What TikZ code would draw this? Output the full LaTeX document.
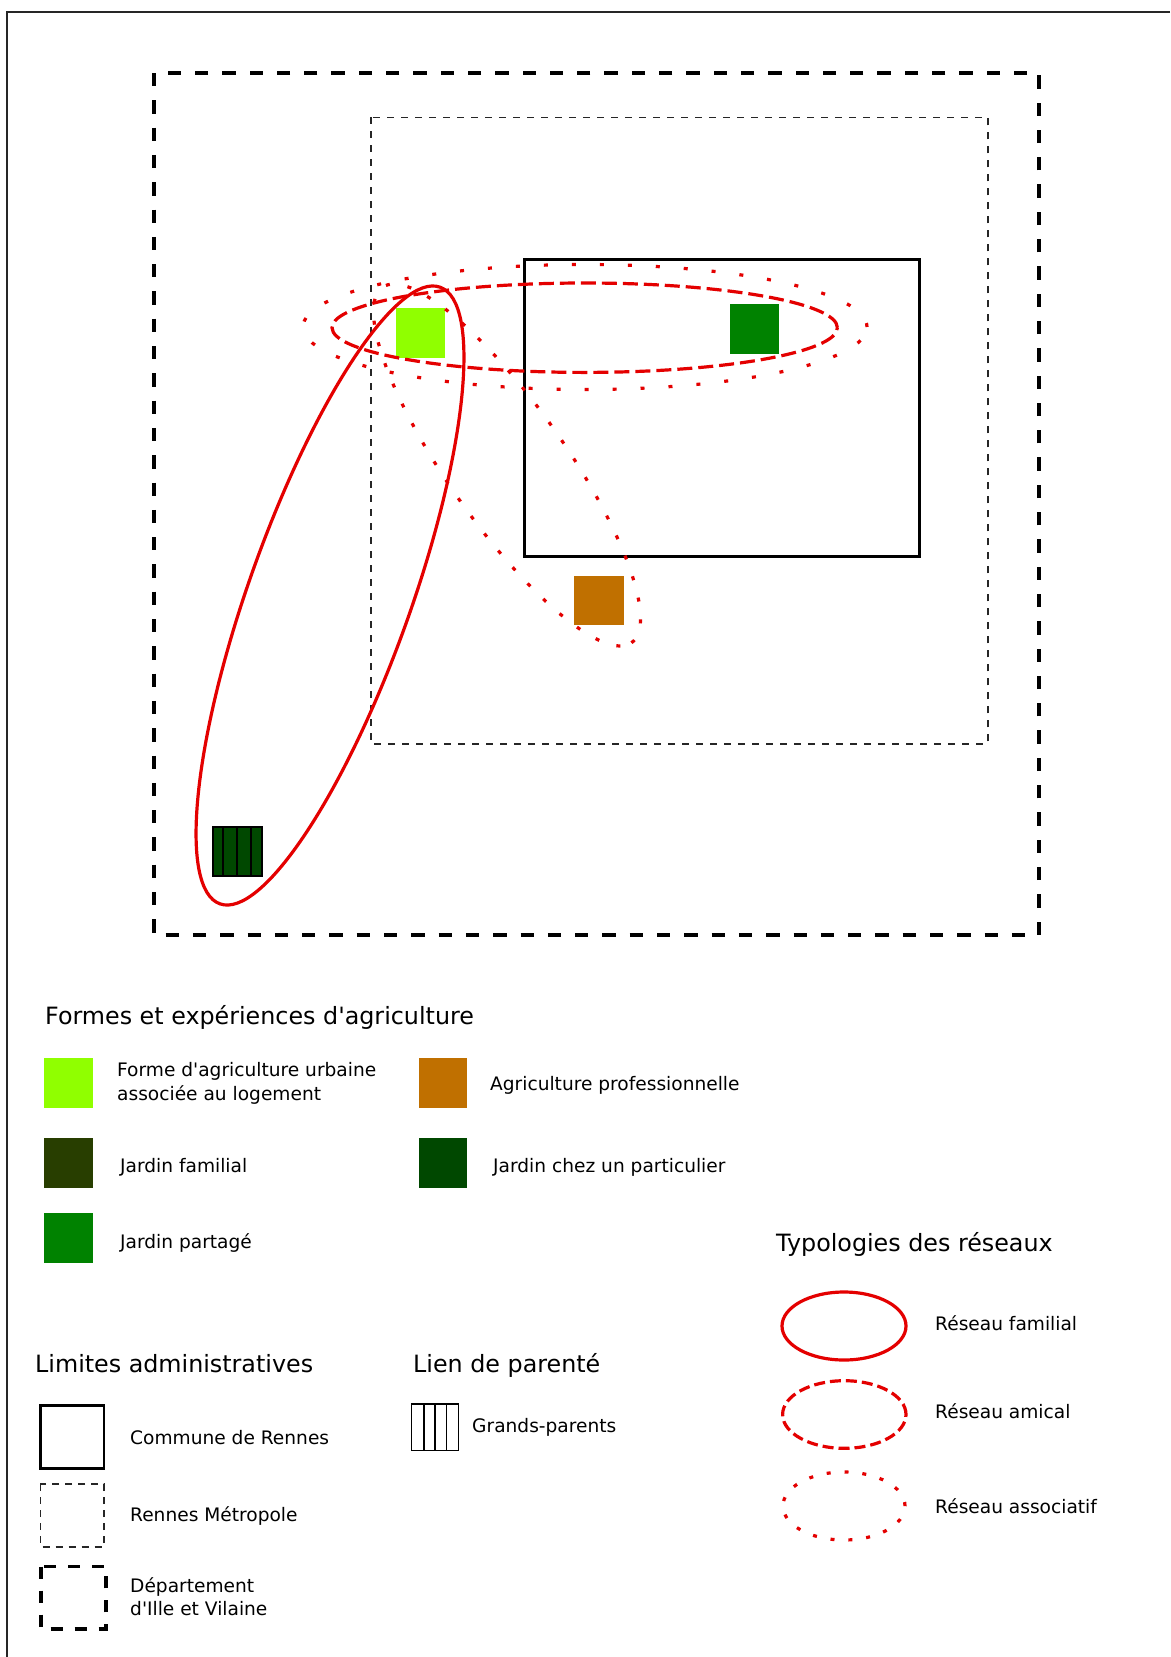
\documentclass[tikz,border=0pt]{standalone}
\usepackage{fontspec}
\setmainfont{DejaVu Sans}[Ligatures=TeXOff]
\definecolor{netred}{RGB}{228,0,0}
\definecolor{agurb}{RGB}{144,255,0}
\definecolor{agpart}{RGB}{0,130,0}
\definecolor{agpro}{RGB}{192,112,0}
\definecolor{agfam}{RGB}{40,62,0}
\definecolor{agpartic}{RGB}{0,72,0}
\begin{document}
\begin{tikzpicture}[x=1pt,y=-1pt,
  lbl/.style={anchor=base west, inner sep=0pt, font=\fontsize{18.6}{22}\selectfont},
  ttl/.style={anchor=base west, inner sep=0pt, font=\fontsize{23.8}{28}\selectfont},
  reseaufam/.style={draw=netred, line width=3.2pt},
  reseauami/.style={draw=netred, line width=3.2pt, dash pattern=on 15pt off 6pt},
  reseauasso/.style={draw=netred, line width=3.2pt, dash pattern=on 4pt off 24pt},
  reseauassob/.style={draw=netred, line width=3.2pt, dash pattern=on 4pt off 18pt},
  commune/.style={draw=black, line width=2.5pt},
  metro/.style={draw=black!85, line width=1.6pt, dash pattern=on 7pt off 7pt},
  dept/.style={draw=black, line width=3.4pt, dash pattern=on 13.3pt off 14pt},
  hatchbox/.style={draw=black, line width=1.5pt}
]
\useasboundingbox (0,0) rectangle (1170,1657);
\fill[white] (0,0) rectangle (1170,1657);
% outer frame
\draw[line width=2pt, black!85] (1170,11.7) -- (7.3,11.7) -- (7.3,1657);

% administrative limits (map)
\draw[dept] (154,73) rectangle (1039,935);
\draw[metro] (371,117.3) rectangle (987.7,744);
\draw[commune] (524.5,259.5) rectangle (919.5,556.5);

% map squares
\fill[agurb] (396,308) rectangle (445,358);
\fill[agpart] (730,304) rectangle (779,354);
\fill[agpro] (574,575.5) rectangle (623.5,625);
\filldraw[fill=agpartic, hatchbox, line width=2pt] (213,827) rectangle (261.5,875.5);
\draw[hatchbox, line width=2pt] (223.3,827) -- (223.3,875.5);
\draw[hatchbox, line width=2pt] (237.3,827) -- (237.3,875.5);
\draw[hatchbox, line width=2pt] (251.3,827) -- (251.3,875.5);

% networks
\draw[reseaufam, rotate around={70.35:(330,595.5)}] (330,595.5) ellipse [x radius=327.4pt, y radius=81pt];
\draw[reseauami] (584.7,327.7) ellipse [x radius=252.7pt, y radius=44.7pt];
\draw[reseauasso] (585,327) ellipse [x radius=282pt, y radius=62.5pt];
\draw[reseauassob, rotate around={-55:(507,465)}] (507,465) ellipse [x radius=217pt, y radius=59pt];

% legend: formes
\node[ttl] (tformes) at (45,1024) {Formes et expériences d'agriculture};
\fill[agurb] (44,1058) rectangle (92.5,1108);
\node[lbl] (lurb1) at (117,1076.7) {Forme d'agriculture urbaine};
\node[lbl] (lurb2) at (117,1100) {associée au logement};
\fill[agpro] (418.5,1058) rectangle (467,1108);
\node[lbl] (lpro) at (490,1090) {Agriculture professionnelle};
\fill[agfam] (44,1138) rectangle (92.5,1188);
\node[lbl] (lfam) at (120,1172) {Jardin familial};
\fill[agpartic] (418.5,1138) rectangle (467,1188);
\node[lbl] (lpartic) at (493,1172) {Jardin chez un particulier};
\fill[agpart] (44,1213) rectangle (92.5,1263);
\node[lbl] (lpart) at (120,1248) {Jardin partagé};

% legend: reseaux
\node[ttl] (treseaux) at (776,1251.7) {Typologies des réseaux};
\draw[reseaufam] (844,1326) ellipse [x radius=62pt, y radius=34pt];
\node[lbl] (lrfam) at (935,1330) {Réseau familial};
\draw[reseauami, dash pattern=on 11pt off 5pt] (844.3,1414.5) ellipse [x radius=61.7pt, y radius=33.8pt];
\node[lbl] (lrami) at (935,1418) {Réseau amical};
\draw[reseauasso, dash pattern=on 4pt off 13.9pt] (844,1506) ellipse [x radius=61pt, y radius=34pt];
\node[lbl] (lrasso) at (935,1513) {Réseau associatif};

% legend: limites
\node[ttl] (tlimites) at (35,1372) {Limites administratives};
\draw[commune] (40.4,1405.7) rectangle (104,1468.7);
\node[lbl] (lcommune) at (130,1444) {Commune de Rennes};
\draw[metro, dash pattern=on 7pt off 6pt] (40.4,1484) rectangle (104,1546.7);
\node[lbl] (lmetro) at (130,1521.7) {Rennes Métropole};
\draw[dept, dash pattern=on 12pt off 12pt] (41,1566.7) rectangle (106,1629);
\node[lbl] (ldept1) at (130,1592) {Département};
\node[lbl] (ldept2) at (130,1615.7) {d'Ille et Vilaine};

% legend: parente
\node[ttl] (tparente) at (413,1372) {Lien de parenté};
\draw[hatchbox] (411.7,1404) rectangle (458.7,1450.7);
\draw[hatchbox] (423.8,1404) -- (423.8,1450.7);
\draw[hatchbox] (435,1404) -- (435,1450.7);
\draw[hatchbox] (446.6,1404) -- (446.6,1450.7);
\node[lbl] (lgp) at (472,1432) {Grands-parents};
\end{tikzpicture}
\end{document}
